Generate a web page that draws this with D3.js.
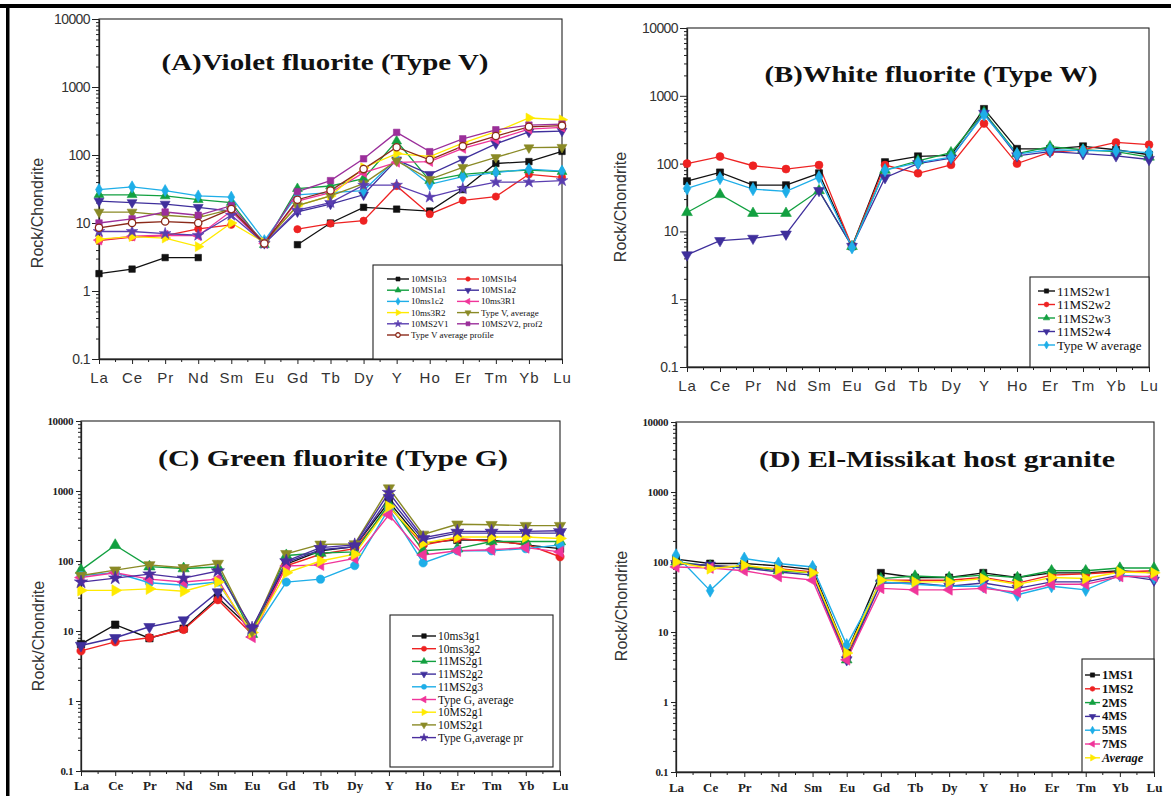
<!DOCTYPE html>
<html>
<head>
<meta charset="utf-8">
<script src="https://cdn.jsdelivr.net/npm/d3@7"></script>
<style>
  body { margin: 0; background: #fff; }
  svg { display: block; }
</style>
</head>
<body>
<svg id="fig" width="1171" height="796"></svg>
<script>
// ---- categories and axis ticks ----
const elements = ["La","Ce","Pr","Nd","Sm","Eu","Gd","Tb","Dy","Y","Ho","Er","Tm","Yb","Lu"];
const decadeTicks = [0.1, 1, 10, 100, 1000, 10000];
const decadeLabels = ["0.1", "1", "10", "100", "1000", "10000"];

// ---- (A) violet fluorite, chondrite-normalised ----
const a_10MS1b3   = [1.8, 2.1, 3.1, 3.1, null, null, 4.8, 10, 17, 16, 15, 31, 75, 80, 113];
const a_10MS1b4   = [5.5, 6.2, 6.5, 8.2, 9.4, null, 8.1, 9.8, 10.8, 35, 13.5, 21.5, 24.5, 52, 47];
const a_10MS1a1   = [26, 26, 25, 22, 20, 4.8, 32, 35, 45, 160, 42, 52, 57, 60, 57];
const a_10MS1a2   = [21, 20, 19, 17, 15, 5.0, 14.6, 19, 26, 85, 52, 87, 146, 218, 225];
const a_10ms1c2   = [31, 34, 30, 25, 24, 5.5, 26, 28, 30, 88, 37, 48, 55, 62, 58];
const a_10ms3R1   = [5.6, 6.4, 6.6, 6.5, 15, 5.0, 21, 28, 55, 78, 80, 125, 170, 240, 255];
const a_10ms3R2   = [5.8, 6.3, 6.0, 4.5, 10, 5.2, 18, 25, 65, 105, 95, 150, 220, 350, 330];
const a_typeVavg  = [14.5, 14.5, 13, 12, 16, 5.2, 18, 25, 38, 82, 44, 66, 92, 128, 130];
const a_10MS2V1   = [7.5, 7.5, 7.0, 6.6, 13, 5.0, 15.5, 20, 36, 36, 24, 32, 40, 40, 42];
const a_10MS2V2   = [10, 11.5, 14.5, 13, 18, 5.0, 29, 42, 88, 215, 112, 173, 235, 275, 285];
const a_typeVprof = [8.5, 10, 10.5, 10, 16, 5.0, 22, 30, 62, 130, 85, 135, 190, 260, 270];

// ---- (B) white fluorite ----
const b_w1   = [55, 74, 48, 48, 72, 6.0, 105, 128, 132, 640, 165, 165, 180, 160, 135];
const b_w2   = [100, 127, 93, 83, 95, 6.0, 95, 72, 96, 390, 100, 147, 160, 205, 190];
const b_w3   = [19, 35, 18.5, 18.5, 40, 6.0, 80, 110, 145, 570, 140, 178, 160, 150, 125];
const b_w4   = [4.5, 7.3, 7.9, 9.1, 40, 6.0, 62, 100, 120, 550, 130, 150, 140, 130, 115];
const b_wavg = [43, 61, 42, 39, 63, 5.8, 80, 103, 125, 530, 138, 160, 155, 155, 145];

// ---- (C) green fluorite ----
const c_10ms3g1  = [6.5, 12.3, 7.9, 10.8, 30, 10.5, 90, 140, 160, 700, 180, 200, 200, 170, 150];
const c_10ms3g2  = [5.2, 7.0, 8.0, 10.5, 28, 9.0, 85, 125, 150, 600, 170, 210, 190, 175, 115];
const c_11MS2g1  = [74, 168, 83, 78, 82, 9.0, 120, 130, 135, 650, 140, 150, 190, 190, 190];
const c_11MS2g2  = [6.2, 8.0, 11.5, 14.3, 36, 11.0, 95, 145, 160, 800, 200, 250, 250, 250, 250];
const c_11MS2g3  = [62, 68, 49, 45, 50, 9.0, 50, 55, 86, 560, 94, 140, 140, 150, 170];
const c_typeGavg = [58, 68, 55, 50, 55, 8.2, 85, 88, 109, 456, 122, 140, 145, 155, 135];
const c_10MS2g1a = [38, 38, 40, 37, 50, 9.5, 68, 100, 125, 600, 180, 220, 220, 220, 210];
const c_10MS2g1b = [62, 74, 88, 80, 92, 10.0, 127, 173, 175, 1100, 240, 335, 330, 320, 320];
const c_typeGpr  = [50, 57, 65, 57, 72, 11.0, 100, 155, 170, 950, 215, 265, 265, 265, 270];

// ---- (D) El-Missikat host granite ----
const d_1MS1 = [110, 95, 95, 88, 78, 5.0, 70, 60, 60, 70, 60, 70, 70, 75, 70];
const d_1MS2 = [95, 88, 85, 80, 72, 4.5, 55, 55, 55, 60, 50, 65, 68, 72, 75];
const d_2MS  = [100, 88, 85, 75, 70, 4.0, 58, 63, 60, 65, 60, 75, 75, 82, 82];
const d_4MS  = [95, 90, 82, 72, 65, 4.0, 50, 50, 45, 50, 42, 52, 52, 65, 55];
const d_5MS  = [125, 39, 112, 95, 85, 6.5, 52, 48, 45, 45, 34, 45, 40, 65, 60];
const d_7MS  = [85, 82, 75, 62, 55, 4.0, 42, 40, 40, 42, 37, 48, 48, 62, 62];
const d_avg  = [100, 80, 90, 78, 70, 5.0, 55, 52, 52, 58, 48, 60, 58, 72, 70];

// ---- series colours ----
const C = {
  black: "#111111", red: "#ee2222", green: "#12a040", indigo: "#3f2f9c",
  cyan: "#1eaee8", pink: "#f0359a", yellow: "#ffea00", olive: "#8a8a26",
  star: "#4a2e9e", magenta: "#9b2f9b", brown: "#8b2a1a"
};

const svg = d3.select("#fig");
svg.append("rect").attr("width", 1171).attr("height", 796).attr("fill", "#fff");
// figure border (top bar and left bar)
svg.append("rect").attr("x", 0).attr("y", 4).attr("width", 1171).attr("height", 4).attr("fill", "#000");
svg.append("rect").attr("x", 6).attr("y", 4).attr("width", 3.5).attr("height", 792).attr("fill", "#000");

// marker path for a given shape
function markerPath(shape, size) {
  const types = {
    square: d3.symbolSquare, circle: d3.symbolCircle, open: d3.symbolCircle,
    up: d3.symbolTriangle, down: d3.symbolTriangle, left: d3.symbolTriangle,
    right: d3.symbolTriangle, diamond: d3.symbolDiamond, star: d3.symbolStar
  };
  return d3.symbol().type(types[shape]).size(size)();
}
function markerRot(shape) {
  return shape === "down" ? 180 : shape === "left" ? -90 : shape === "right" ? 90 : 0;
}
function drawMarker(g, shape, color, cx, cy, size) {
  g.append("path")
    .attr("d", markerPath(shape, size))
    .attr("transform", `translate(${cx},${cy}) rotate(${markerRot(shape)})`)
    .attr("fill", shape === "open" ? "#fff" : color)
    .attr("stroke", color)
    .attr("stroke-width", shape === "open" ? 1.3 : 0.6);
}

function drawPanel(p) {
  const g = svg.append("g");
  const x = d3.scalePoint().domain(elements).range([p.left, p.right]);
  const y = d3.scaleLog().domain([0.1, 10000]).range([p.bottom, p.top]);

  // plot frame
  g.append("rect")
    .attr("x", p.left).attr("y", p.top)
    .attr("width", p.right - p.left).attr("height", p.bottom - p.top)
    .attr("fill", "none").attr("stroke", "#222").attr("stroke-width", 1.1);

  // minor log ticks
  const minor = [];
  decadeTicks.slice(0, -1).forEach(d => { for (let k = 2; k < 10; k++) minor.push(d * k); });
  g.append("g").attr("transform", `translate(${p.left},0)`)
    .call(d3.axisLeft(y).tickValues(minor).tickSize(3).tickSizeOuter(0).tickFormat(""))
    .call(s => s.select(".domain").remove())
    .call(s => s.selectAll("line").attr("stroke", "#222"));

  // major y ticks and labels
  const ya = g.append("g").attr("transform", `translate(${p.left},0)`)
    .call(d3.axisLeft(y).tickValues(decadeTicks).tickSize(p.yTick).tickSizeOuter(0)
      .tickPadding(p.yPad).tickFormat((d, i) => decadeLabels[i]));
  ya.select(".domain").attr("stroke", "#222").attr("stroke-width", 1.3);
  ya.selectAll("line").attr("stroke", "#222");
  ya.selectAll("text")
    .attr("font-family", p.tickFont).attr("font-size", p.yTickSize)
    .attr("font-weight", p.tickWeight).attr("fill", p.tickColor)
    .attr("letter-spacing", p.yLetter);

  // x axis: ticks at categories, half ticks between
  const mids = elements.slice(0, -1).map((e, i) => (x(e) + x(elements[i + 1])) / 2);
  g.append("g").selectAll("line").data(mids).join("line")
    .attr("x1", d => d).attr("x2", d => d)
    .attr("y1", p.bottom).attr("y2", p.bottom + 3)
    .attr("stroke", "#222");
  const xa = g.append("g").attr("transform", `translate(0,${p.bottom})`)
    .call(d3.axisBottom(x).tickSize(5).tickSizeOuter(0));
  xa.select(".domain").attr("stroke", "#222").attr("stroke-width", 1.3);
  xa.selectAll("line").attr("stroke", "#222");
  xa.selectAll("text")
    .attr("y", p.xLabelY).attr("dy", null)
    .attr("font-family", p.tickFont).attr("font-size", p.xTickSize)
    .attr("font-weight", p.tickWeight).attr("fill", p.tickColor)
    .attr("letter-spacing", p.xLetter);

  // y axis title
  g.append("text")
    .attr("transform", `translate(${p.yTitleX},${p.yTitleY}) rotate(-90)`)
    .attr("text-anchor", "middle").attr("dominant-baseline", "central")
    .attr("font-family", "Liberation Sans, Arial, sans-serif").attr("font-size", 16)
    .attr("fill", "#333").text("Rock/Chondrite");

  // panel title
  g.append("text")
    .attr("x", p.titleX).attr("y", p.titleY)
    .attr("text-anchor", "middle")
    .attr("font-family", "Liberation Serif, Times New Roman, serif")
    .attr("font-weight", "bold").attr("font-size", 24)
    .attr("textLength", p.titleW).attr("lengthAdjust", "spacingAndGlyphs")
    .attr("fill", "#111").text(p.title);

  // series lines and markers
  const line = d3.line().defined(v => v != null)
    .x((v, i) => x(elements[i])).y(v => y(v));
  p.series.forEach(s => {
    g.append("path").datum(s.values)
      .attr("d", line).attr("fill", "none")
      .attr("stroke", s.color).attr("stroke-width", p.lineW);
  });
  p.series.forEach(s => {
    s.values.forEach((v, i) => {
      if (v != null) drawMarker(g, s.shape, s.color, x(elements[i]), y(v), p.markSize);
    });
  });

  // legend
  const L = p.legend;
  g.append("rect")
    .attr("x", L.x0).attr("y", L.y0)
    .attr("width", L.x1 - L.x0).attr("height", L.y1 - L.y0)
    .attr("fill", "#fff").attr("stroke", "#222").attr("stroke-width", 1.1);
  p.series.forEach((s, i) => {
    const col = i % L.cols, row = Math.floor(i / L.cols);
    const lx = L.lineX[col], ly = L.rowY + row * L.rowH;
    g.append("line")
      .attr("x1", lx).attr("x2", lx + L.lineLen)
      .attr("y1", ly).attr("y2", ly)
      .attr("stroke", s.color).attr("stroke-width", 1.4);
    drawMarker(g, s.shape, s.color, lx + L.lineLen / 2, ly, L.markSize);
    g.append("text")
      .attr("x", lx + L.lineLen + 2).attr("y", ly)
      .attr("dominant-baseline", "central")
      .attr("font-family", "Liberation Serif, Times New Roman, serif")
      .attr("font-size", L.fontSize).attr("font-weight", L.weight)
      .attr("font-style", s.italic ? "italic" : "normal")
      .attr("fill", "#111").text(s.name);
  });
}

const sansTicks = {
  tickFont: "Liberation Sans, Arial, sans-serif", tickWeight: "normal", tickColor: "#333",
  yTickSize: 14, xTickSize: 15, yLetter: -0.6, xLetter: 1, yTick: 7, yPad: 2
};
const serifTicks = {
  tickFont: "Liberation Serif, Times New Roman, serif", tickWeight: "bold", tickColor: "#222",
  yTickSize: 11, xTickSize: 13, yLetter: -0.4, xLetter: 0, yTick: 5, yPad: 3
};

drawPanel(Object.assign({}, sansTicks, {
  left: 99, top: 19, right: 562, bottom: 359, xLabelY: 24,
  yTitleX: 37, yTitleY: 213, titleX: 325, titleY: 70, titleW: 327,
  title: "(A)Violet fluorite (Type V)", lineW: 1.3, markSize: 42,
  series: [
    { name: "10MS1b3", values: a_10MS1b3, color: C.black, shape: "square" },
    { name: "10MS1b4", values: a_10MS1b4, color: C.red, shape: "circle" },
    { name: "10MS1a1", values: a_10MS1a1, color: C.green, shape: "up" },
    { name: "10MS1a2", values: a_10MS1a2, color: C.indigo, shape: "down" },
    { name: "10ms1c2", values: a_10ms1c2, color: C.cyan, shape: "diamond" },
    { name: "10ms3R1", values: a_10ms3R1, color: C.pink, shape: "left" },
    { name: "10ms3R2", values: a_10ms3R2, color: C.yellow, shape: "right" },
    { name: "Type V, average", values: a_typeVavg, color: C.olive, shape: "down" },
    { name: "10MS2V1", values: a_10MS2V1, color: "#5a3eb0", shape: "star" },
    { name: "10MS2V2, prof2", values: a_10MS2V2, color: C.magenta, shape: "square" },
    { name: "Type V average profile", values: a_typeVprof, color: C.brown, shape: "open" }
  ],
  legend: { x0: 373, y0: 265, x1: 562, y1: 359, cols: 2, lineX: [387, 457], lineLen: 22,
            rowY: 279, rowH: 11.2, fontSize: 9, weight: "normal", markSize: 16 }
}));

drawPanel(Object.assign({}, sansTicks, {
  left: 687, top: 28, right: 1149, bottom: 367, xLabelY: 24,
  yTitleX: 620, yTitleY: 207, titleX: 931, titleY: 82, titleW: 333,
  title: "(B)White fluorite (Type W)", lineW: 1.3, markSize: 50,
  series: [
    { name: "11MS2w1", values: b_w1, color: C.black, shape: "square" },
    { name: "11MS2w2", values: b_w2, color: C.red, shape: "circle" },
    { name: "11MS2w3", values: b_w3, color: C.green, shape: "up" },
    { name: "11MS2w4", values: b_w4, color: C.indigo, shape: "down" },
    { name: "Type W average", values: b_wavg, color: C.cyan, shape: "diamond" }
  ],
  legend: { x0: 1030, y0: 277, x1: 1149, y1: 367, cols: 1, lineX: [1038], lineLen: 17,
            rowY: 291, rowH: 13.5, fontSize: 13, weight: "normal", markSize: 18 }
}));

drawPanel(Object.assign({}, serifTicks, {
  left: 81, top: 421, right: 560, bottom: 771, xLabelY: 19,
  yTitleX: 38, yTitleY: 636, titleX: 333, titleY: 466, titleW: 350,
  title: "(C) Green fluorite (Type G)", lineW: 1.4, markSize: 55,
  series: [
    { name: "10ms3g1", values: c_10ms3g1, color: C.black, shape: "square" },
    { name: "10ms3g2", values: c_10ms3g2, color: C.red, shape: "circle" },
    { name: "11MS2g1", values: c_11MS2g1, color: C.green, shape: "up" },
    { name: "11MS2g2", values: c_11MS2g2, color: C.indigo, shape: "down" },
    { name: "11MS2g3", values: c_11MS2g3, color: C.cyan, shape: "circle" },
    { name: "Type  G, average", values: c_typeGavg, color: C.pink, shape: "left" },
    { name: "10MS2g1", values: c_10MS2g1a, color: C.yellow, shape: "right" },
    { name: "10MS2g1", values: c_10MS2g1b, color: C.olive, shape: "down" },
    { name: "Type  G,average pr", values: c_typeGpr, color: C.star, shape: "star" }
  ],
  legend: { x0: 390, y0: 615, x1: 553, y1: 767, cols: 1, lineX: [412], lineLen: 24,
            rowY: 636, rowH: 12.7, fontSize: 11.5, weight: "normal", markSize: 20 }
}));

drawPanel(Object.assign({}, serifTicks, {
  left: 676, top: 422, right: 1154, bottom: 772, xLabelY: 20,
  yTitleX: 621, yTitleY: 606, titleX: 937, titleY: 467, titleW: 356,
  title: "(D) El-Missikat host granite", lineW: 1.4, markSize: 50,
  series: [
    { name: "1MS1", values: d_1MS1, color: C.black, shape: "square" },
    { name: "1MS2", values: d_1MS2, color: C.red, shape: "circle" },
    { name: "2MS", values: d_2MS, color: C.green, shape: "up" },
    { name: "4MS", values: d_4MS, color: C.indigo, shape: "down" },
    { name: "5MS", values: d_5MS, color: C.cyan, shape: "diamond" },
    { name: "7MS", values: d_7MS, color: C.pink, shape: "left" },
    { name: "Average", values: d_avg, color: C.yellow, shape: "right", italic: true }
  ],
  legend: { x0: 1082, y0: 659, x1: 1154, y1: 772, cols: 1, lineX: [1085], lineLen: 15,
            rowY: 675, rowH: 13.8, fontSize: 12.5, weight: "bold", markSize: 18 }
}));
</script>
</body>
</html>
